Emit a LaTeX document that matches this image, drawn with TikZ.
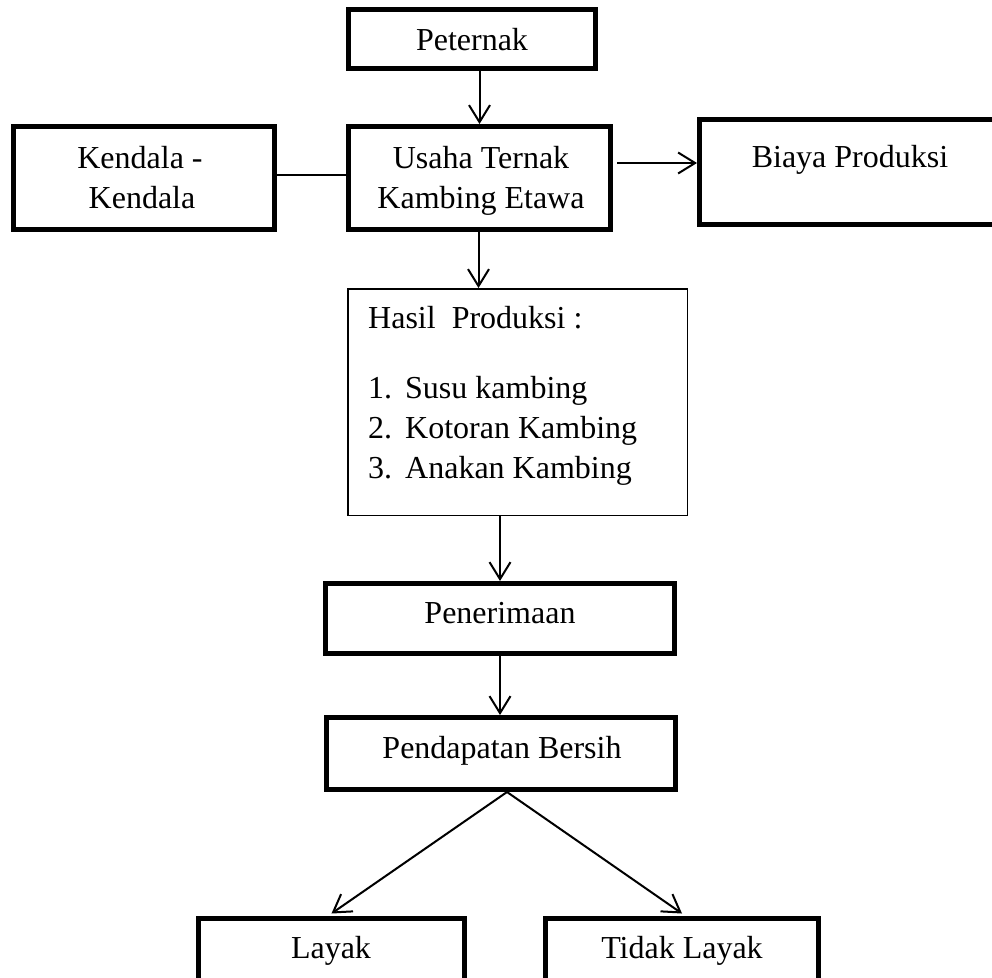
\documentclass[tikz,border=0pt]{standalone}
\usepackage{fontspec}
\setmainfont{Liberation Serif}
\usetikzlibrary{arrows.meta}
\tikzset{
  boxthick/.style={draw, line width=5pt, rectangle, inner sep=0pt, fill=white},
  boxthin/.style={draw, line width=1.5pt, rectangle, inner sep=0pt, fill=white},
  txt/.style={font=\fontsize{32}{40}\selectfont, inner sep=0pt, anchor=base},
  txtl/.style={font=\fontsize{32}{40}\selectfont, inner sep=0pt, anchor=base west},
  conn/.style={line width=2pt, -{Straight Barb[length=17pt,width=21pt,line width=2pt]}},
  plainconn/.style={line width=2pt}
}
\begin{document}
\begin{tikzpicture}[x=1pt,y=-1pt]
\useasboundingbox (0,0) rectangle (992,977);
\clip (0,0) rectangle (992,977);
% boxes (path dims = outer dims - line width)
\node[boxthick, minimum width=247pt, minimum height=59pt] (peternak) at (472,39) {};
\node[boxthick, minimum width=262pt, minimum height=103pt] (usaha) at (479.5,178) {};
\node[boxthick, minimum width=261pt, minimum height=103pt] (kendala) at (144,178) {};
\node[boxthick, minimum width=308pt, minimum height=105pt] (biaya) at (853.5,172) {};
\node[boxthin, minimum width=339.5pt, minimum height=226.5pt] (hasil) at (517.5,402) {};
\node[boxthick, minimum width=349pt, minimum height=70pt] (penerimaan) at (500,618.5) {};
\node[boxthick, minimum width=349pt, minimum height=72pt] (pendapatan) at (501,753.5) {};
\node[boxthick, minimum width=266pt, minimum height=80pt] (layak) at (331.5,958) {};
\node[boxthick, minimum width=273pt, minimum height=80pt] (tidak) at (682,958) {};
% texts
\node[txt] (tpeternak) at (472,50) {Peternak};
\node[txt] (tusaha1) at (481,168) {Usaha Ternak};
\node[txt] (tusaha2) at (481,208) {Kambing Etawa};
\node[txt] (tkendala1) at (140,168) {Kendala -};
\node[txt] (tkendala2) at (142,208) {Kendala};
\node[txt] (tbiaya) at (850,167) {Biaya Produksi};
\node[txtl] (thasil) at (368,328) {Hasil\ \ Produksi :};
\node[txtl] (tn1) at (368,398) {1.};
\node[txtl] (tn2) at (368,438) {2.};
\node[txtl] (tn3) at (368,478) {3.};
\node[txtl] (ti1) at (405,398) {Susu kambing};
\node[txtl] (ti2) at (405,438) {Kotoran Kambing};
\node[txtl] (ti3) at (405,478) {Anakan Kambing};
\node[txt] (tpenerimaan) at (500,623) {Penerimaan};
\node[txt] (tpendapatan) at (502,758) {Pendapatan Bersih};
\node[txt] (tlayak) at (331,958) {Layak};
\node[txt] (ttidak) at (682,958) {Tidak Layak};
% connectors
\draw[conn] (peternak.south -| usaha.north) -- (usaha.north);
\draw[plainconn] ([yshift=3pt]kendala.east) -- ([yshift=3pt]usaha.west);
\draw[conn] ([xshift=4pt,yshift=15pt]usaha.east) -- ([yshift=15pt]usaha.east -| biaya.west);
\draw[conn] ([xshift=-1pt]usaha.south) -- ([xshift=-1pt]usaha.south |- hasil.north);
\draw[conn] (penerimaan.north |- hasil.south) -- (penerimaan.north);
\draw[conn] (penerimaan.south) -- (penerimaan.south |- pendapatan.north);
\coordinate (apex) at ([xshift=6pt]pendapatan.south);
\draw[conn] (apex) -- ([yshift=2pt]layak.north);
\draw[conn] (apex) -- ([yshift=2pt]tidak.north);
\end{tikzpicture}
\end{document}
